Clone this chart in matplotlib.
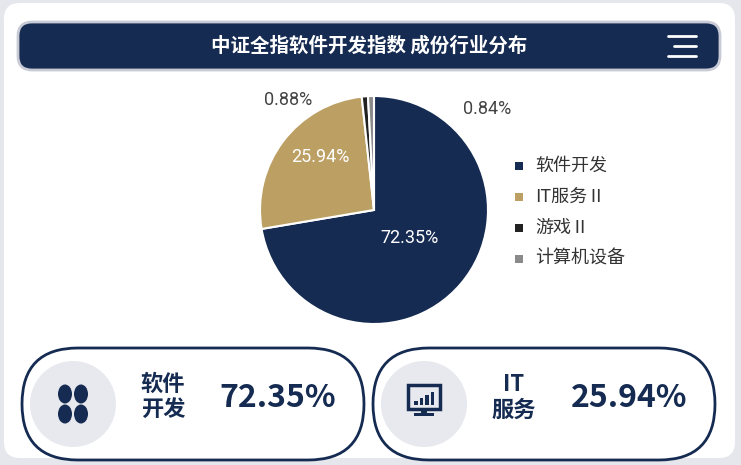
import matplotlib.pyplot as plt
from matplotlib.patches import FancyBboxPatch, Ellipse, Rectangle
import numpy as np

plt.rcParams['font.family'] = ['Noto Sans CJK SC', 'DejaVu Sans']

# === Données ===
categories = ["软件开发", "IT服务Ⅱ", "游戏Ⅱ", "计算机设备"]
values = [72.35, 25.94, 0.88, 0.84]
colors = ["#152b52", "#bc9f63", "#222222", "#8a8a8a"]
title = "中证全指软件开发指数 成份行业分布"

navy = "#152b52"
W, H = 741, 465
fig = plt.figure(figsize=(W / 100, H / 100), dpi=100)
fig.patch.set_facecolor("#e6e7ec")

# --- fond en coordonnées pixels ---
bg = fig.add_axes([0, 0, 1, 1])
bg.set_xlim(0, W)
bg.set_ylim(H, 0)
bg.axis("off")
bg.add_patch(FancyBboxPatch((4, 3), 731, 455, boxstyle="round,pad=0,rounding_size=16",
                            fc="white", ec="none"))
bg.add_patch(FancyBboxPatch((18, 22), 702, 48, boxstyle="round,pad=0,rounding_size=14",
                            fc=navy, ec="#c8cbd6", lw=2))
bg.text(369, 46, title, color="white", fontsize=14, fontweight="bold", ha="center", va="center")
for y, x0 in [(36, 668), (46, 674), (56, 668)]:
    bg.plot([x0, 696], [y, y], color="white", lw=2, solid_capstyle="round")

# --- cartes du bas ---
cards = [(22, "软件\n开发", values[0]), (373, "IT\n服务", values[1])]
for i, (x0, lab, v) in enumerate(cards):
    bg.add_patch(FancyBboxPatch((x0, 348), 342, 112, boxstyle="round,pad=0,rounding_size=56",
                                fc="white", ec=navy, lw=2))
    cx = x0 + 51
    bg.add_patch(Ellipse((cx, 404), 86, 86, fc="#e8e9ee", ec="none"))
    bg.text(x0 + 141, 397, lab, color=navy, fontsize=16, fontweight="bold",
            ha="center", va="center", linespacing=1.15)
    bg.text(x0 + 256, 398, f"{v:.2f}%", color=navy, fontsize=23, fontweight="bold",
            ha="center", va="center")
    if i == 0:
        for dx, dy in [(-8, -10), (8, -10), (-8, 10), (8, 10)]:
            bg.add_patch(Ellipse((cx + dx, 404 + dy), 14, 19, fc=navy, ec="none"))
    else:
        bg.add_patch(Rectangle((cx - 16, 385), 32, 24, fc="none", ec=navy, lw=2.5))
        bg.add_patch(Rectangle((cx - 3, 409), 6, 5, fc=navy))
        bg.add_patch(Rectangle((cx - 10, 413), 20, 3, fc=navy))
        for k, h in enumerate([4, 7, 10, 13]):
            bg.add_patch(Rectangle((cx - 10 + k * 5.5, 405 - h), 3.5, h, fc=navy))

# --- camembert ---
ax = fig.add_axes([260 / W, (H - 324) / H, 228 / W, 228 / H])
wedges, _ = ax.pie(values, colors=colors, startangle=90, counterclock=False,
                   wedgeprops=dict(edgecolor="white", linewidth=1.5))
ax.set_xlim(-1, 1)
ax.set_ylim(-1, 1)
ax.set_aspect("equal")
lab_pos = [(0.4, -38, "white"), (0.66, 135, "white"), (1.22, 128, "#444444"), (1.33, 42, "#444444")]
for v, (r, a, c) in zip(values, lab_pos):
    t = np.radians(a)
    ax.text(r * np.cos(t), r * np.sin(t), f"{v:.2f}%", color=c, fontsize=13,
            ha="center", va="center", family=["Roboto", "DejaVu Sans"], clip_on=False)

# --- légende ---
for k, (cat, col) in enumerate(zip(categories, colors)):
    y = 166 + k * 31
    bg.add_patch(Rectangle((515, y - 4), 8, 8, fc=col))
    bg.text(535, y, cat, color="#333333", fontsize=13, ha="left", va="center")

fig.savefig("out.png", dpi=100)
